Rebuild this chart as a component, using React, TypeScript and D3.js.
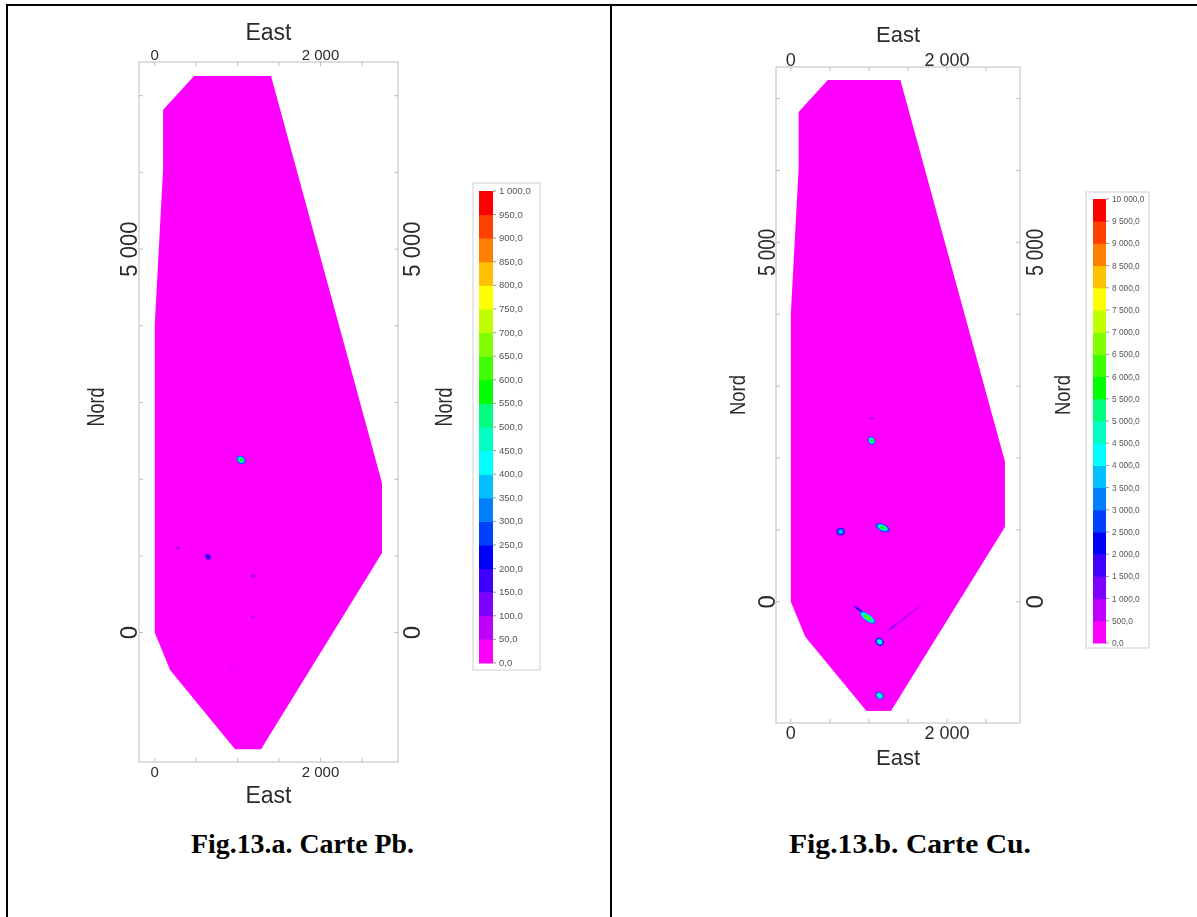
import * as d3 from 'd3'

// Both maps cover the same survey area, in metres
const eastDomain = [-190, 2935]
const nordDomain = [-1687, 7440]
const eastTicks = [0, 500, 1000, 1500, 2000, 2500]
const nordTicks = [0, 1000, 2000, 3000, 4000, 5000, 6000, 7000]
const eastLabels = [0, 2000]
const nordLabels = [0, 5000]

// Outline of the kriged area: east, nord
const outline: [number, number][] = [
  [474, 7258], [1403, 7258], [2742, 1952], [2742, 1039], [1282, -1521],
  [969, -1521], [185, -486], [0, 0], [0, 4012], [100, 6032], [100, 6815],
]

const bandColors = [
  '#ff00ff', '#c000ff', '#8000ff', '#4000ff', '#0000ff', '#0040ff', '#0080ff',
  '#00c0ff', '#00ffff', '#00ffc0', '#00ff80', '#00ff00', '#40ff00', '#80ff00',
  '#c0ff00', '#ffff00', '#ffc000', '#ff8000', '#ff4000', '#ff0000',
]

const pbLevels = [0, 50, 100, 150, 200, 250, 300, 350, 400, 450, 500, 550, 600, 650, 700, 750, 800, 850, 900, 950, 1000]
const cuLevels = [0, 500, 1000, 1500, 2000, 2500, 3000, 3500, 4000, 4500, 5000, 5500, 6000, 6500, 7000, 7500, 8000, 8500, 9000, 9500, 10000]

// Anomalies: east, nord, peak grade, half length and half width (m), tilt (deg)
type Spot = { east: number; nord: number; peak: number; major: number; minor: number; tilt: number }

const pbSpots: Spot[] = [
  { east: 1041, nord: 2252, peak: 560, major: 60, minor: 46, tilt: 40 },
  { east: 643, nord: 987, peak: 230, major: 42, minor: 34, tilt: 60 },
  { east: 281, nord: 1104, peak: 60, major: 50, minor: 34, tilt: 0 },
  { east: 1186, nord: 739, peak: 60, major: 56, minor: 36, tilt: 0 },
  { east: 1186, nord: 205, peak: 55, major: 56, minor: 30, tilt: 0 },
  { east: 932, nord: -486, peak: 55, major: 70, minor: 22, tilt: 0 },
]

const cuSpots: Spot[] = [
  { east: 1034, nord: 2242, peak: 5800, major: 55, minor: 42, tilt: 60 },
  { east: 639, nord: 975, peak: 3600, major: 55, minor: 50, tilt: 0 },
  { east: 1175, nord: 1031, peak: 5600, major: 95, minor: 48, tilt: 25 },
  { east: 881, nord: -115, peak: 2300, major: 100, minor: 15, tilt: 36 },
  { east: 983, nord: -220, peak: 6200, major: 120, minor: 45, tilt: 36 },
  { east: 1137, nord: -557, peak: 4800, major: 55, minor: 46, tilt: 40 },
  { east: 1137, nord: -1309, peak: 5000, major: 55, minor: 46, tilt: 40 },
  { east: 1462, nord: -223, peak: 1100, major: 280, minor: 10, tilt: -39 },
  { east: 1302, nord: -352, peak: 1600, major: 80, minor: 10, tilt: -39 },
  { east: 1034, nord: 2549, peak: 800, major: 40, minor: 22, tilt: 0 },
]

const ringShares = [1, 0.8, 0.6, 0.4]
const ringGrades = [0.5, 0.7, 0.85, 1]

const grouped = d3.formatLocale({ decimal: ',', thousands: ' ', grouping: [3], currency: ['', ''] })
const tickText = grouped.format(',d')
const legendText = grouped.format(',.1f')

const SANS = '"Liberation Sans", Arial, sans-serif'
const FRAME = '#bdbdbd'
const INK = '#2b2b2b'

type PanelProps = {
  frame: { left: number; right: number; top: number; bottom: number }
  spots: Spot[]
  levels: number[]
  legend: { boxLeft: number; boxRight: number; boxTop: number; boxBottom: number; barLeft: number; barRight: number; barTop: number; barBottom: number; size: number }
  type: { east: number; top: number; side: number; sideLen: number; sideShift: number; nord: number; nordLen: number; nordY: number }
  eastY: [number, number]
  tickY: [number, number]
  sideX: [number, number]
  nordX: [number, number]
}

function MapPanel({ frame, spots, levels, legend, type, eastY, tickY, sideX, nordX }: PanelProps) {
  const x = d3.scaleLinear().domain(eastDomain).range([frame.left, frame.right])
  const y = d3.scaleLinear().domain(nordDomain).range([frame.bottom, frame.top])
  const area = d3.line<[number, number]>().x(d => x(d[0])).y(d => y(d[1])).curve(d3.curveLinearClosed)

  const maxGrade = levels[levels.length - 1]
  const color = d3.scaleQuantize<string>().domain([0, maxGrade]).range(bandColors)
  const legendY = d3.scaleLinear().domain([0, maxGrade]).range([legend.barBottom, legend.barTop])
  const midX = (frame.left + frame.right) / 2

  return (
    <g filter="url(#soft)">
      <rect x={frame.left} y={frame.top} width={frame.right - frame.left} height={frame.bottom - frame.top} fill="#fff" stroke={FRAME} />

      {eastTicks.map(t => (
        <g key={t} stroke={FRAME}>
          <line x1={x(t)} x2={x(t)} y1={frame.top} y2={frame.top + 4} />
          <line x1={x(t)} x2={x(t)} y1={frame.bottom} y2={frame.bottom - 4} />
        </g>
      ))}
      {nordTicks.map(t => (
        <g key={t} stroke={FRAME}>
          <line x1={frame.left} x2={frame.left + 4} y1={y(t)} y2={y(t)} />
          <line x1={frame.right} x2={frame.right - 4} y1={y(t)} y2={y(t)} />
        </g>
      ))}

      <path d={area(outline) ?? ''} fill="#ff00ff" />

      {spots.map((s, i) =>
        ringShares.map((share, j) => {
          const grade = s.peak * ringGrades[j]
          if (j > 0 && color(grade) === color(s.peak * ringGrades[j - 1])) return null
          return (
            <ellipse
              key={`${i}-${j}`}
              transform={`translate(${x(s.east)},${y(s.nord)}) rotate(${s.tilt})`}
              rx={(x(s.major) - x(0)) * share}
              ry={(x(s.minor) - x(0)) * share}
              fill={color(grade)}
            />
          )
        })
      )}

      <g fontFamily={SANS} fill={INK} textAnchor="middle">
        <text x={midX} y={eastY[0]} fontSize={type.east}>East</text>
        <text x={midX} y={eastY[1]} fontSize={type.east}>East</text>
        {eastLabels.map(t => (
          <g key={t} fontSize={type.top}>
            <text x={x(t)} y={tickY[0]}>{tickText(t)}</text>
            <text x={x(t)} y={tickY[1]}>{tickText(t)}</text>
          </g>
        ))}
        {nordLabels.map(t =>
          sideX.map(sx => (
            <text
              key={`${t}-${sx}`}
              transform={`translate(${sx},${y(t) + (t ? type.sideShift : 0)}) rotate(-90)`}
              fontSize={type.side}
              textLength={t ? type.sideLen : undefined}
              lengthAdjust="spacingAndGlyphs"
            >
              {tickText(t)}
            </text>
          ))
        )}
        {nordX.map(nx => (
          <text
            key={nx}
            transform={`translate(${nx},${type.nordY}) rotate(-90)`}
            fontSize={type.nord}
            textLength={type.nordLen}
            lengthAdjust="spacingAndGlyphs"
          >
            Nord
          </text>
        ))}
      </g>

      <rect
        x={legend.boxLeft}
        y={legend.boxTop}
        width={legend.boxRight - legend.boxLeft}
        height={legend.boxBottom - legend.boxTop}
        fill="#fff"
        stroke="#cfcfcf"
      />
      {bandColors.map((c, i) => (
        <rect
          key={c}
          x={legend.barLeft}
          width={legend.barRight - legend.barLeft}
          y={legendY(levels[i + 1])}
          height={legendY(levels[i]) - legendY(levels[i + 1]) + 0.5}
          fill={c}
        />
      ))}
      {levels.map(v => (
        <g key={v}>
          <line x1={legend.barRight} x2={legend.barRight + 3} y1={legendY(v)} y2={legendY(v)} stroke="#999" />
          <text x={legend.barRight + 6} y={legendY(v) + 3} fontFamily={SANS} fontSize={legend.size} fill="#555">
            {legendText(v)}
          </text>
        </g>
      ))}
    </g>
  )
}

export default function App() {
  return (
    <svg width={1197} height={917} style={{ position: 'absolute', left: 0, top: 0, display: 'block' }}>
      <defs>
        <filter id="soft" x="-5%" y="-5%" width="110%" height="110%">
          <feGaussianBlur stdDeviation="0.6" />
        </filter>
      </defs>
      <rect width={1197} height={917} fill="#fff" />

      <g stroke="#000" strokeWidth={2}>
        <line x1={7} x2={7} y1={4} y2={917} />
        <line x1={611} x2={611} y1={4} y2={917} />
        <line x1={6} x2={1197} y1={5} y2={5} />
      </g>

      <MapPanel
        frame={{ left: 139, right: 398, top: 62, bottom: 762 }}
        spots={pbSpots}
        levels={pbLevels}
        legend={{ boxLeft: 473, boxRight: 540, boxTop: 183, boxBottom: 670, barLeft: 479, barRight: 493, barTop: 191, barBottom: 663, size: 9.5 }}
        type={{ east: 23, top: 15, side: 24, sideLen: 55, sideShift: 0, nord: 24, nordLen: 39, nordY: 407 }}
        eastY={[40, 803]}
        tickY={[60, 777]}
        sideX={[137, 420]}
        nordX={[104, 452]}
      />
      <MapPanel
        frame={{ left: 776, right: 1020, top: 67, bottom: 723 }}
        spots={cuSpots}
        levels={cuLevels}
        legend={{ boxLeft: 1086, boxRight: 1149, boxTop: 192, boxBottom: 648, barLeft: 1093, barRight: 1106, barTop: 199, barBottom: 643, size: 8.3 }}
        type={{ east: 22, top: 18, side: 24, sideLen: 47, sideShift: 10, nord: 22, nordLen: 40, nordY: 395 }}
        eastY={[42, 765]}
        tickY={[66, 739]}
        sideX={[775, 1043]}
        nordX={[745, 1070]}
      />

      <g fontFamily='"Liberation Serif", "Times New Roman", serif' fontWeight="bold" fontSize={27} textAnchor="middle" fill="#000">
        <text x={302.5} y={853} textLength={223} lengthAdjust="spacingAndGlyphs">Fig.13.a. Carte Pb.</text>
        <text x={910} y={853} textLength={242} lengthAdjust="spacingAndGlyphs">Fig.13.b. Carte Cu.</text>
      </g>
    </svg>
  )
}
